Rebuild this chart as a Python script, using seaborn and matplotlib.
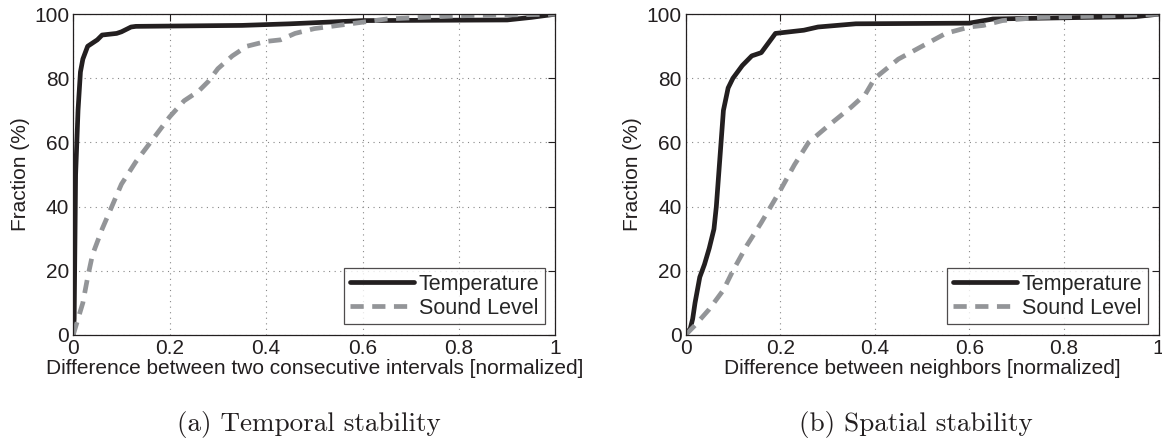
import pandas as pd
import matplotlib
matplotlib.use("Agg")
import matplotlib.pyplot as plt
import seaborn as sns

# CDF curves (x = normalized difference, y = fraction %)
temporal_temp_x = [0, 0.002, 0.005, 0.01, 0.015, 0.02, 0.03, 0.04, 0.05, 0.06, 0.09, 0.1, 0.12, 0.13, 0.35, 0.45, 0.6, 0.9, 0.95, 1.0]
temporal_temp_y = [0, 5, 50, 70, 82, 86, 90, 91, 92, 93.5, 94, 94.5, 96, 96.2, 96.5, 97, 98, 98.2, 99, 100]
temporal_sound_x = [0, 0.01, 0.02, 0.03, 0.04, 0.06, 0.08, 0.1, 0.13, 0.16, 0.2, 0.23, 0.26, 0.28, 0.3, 0.33, 0.36, 0.4, 0.43, 0.46, 0.5, 0.55, 0.6, 0.65, 0.8, 1.0]
temporal_sound_y = [0, 5, 10, 18, 25, 33, 40, 47, 54, 60, 68, 73, 76, 79, 83, 87, 90, 91.5, 92, 94, 95.5, 96.5, 97.5, 98.5, 99.5, 100]

spatial_temp_x = [0, 0.01, 0.015, 0.02, 0.03, 0.04, 0.05, 0.06, 0.065, 0.07, 0.075, 0.08, 0.09, 0.1, 0.12, 0.14, 0.16, 0.175, 0.19, 0.25, 0.28, 0.36, 0.6, 0.65, 0.85, 0.95, 1.0]
spatial_temp_y = [0, 2, 5, 10, 18, 22, 27, 33, 40, 50, 60, 70, 77, 80, 84, 87, 88, 91, 94, 95, 96, 97, 97.2, 98.5, 99, 99.2, 100]
spatial_sound_x = [0, 0.02, 0.05, 0.08, 0.1, 0.13, 0.16, 0.18, 0.2, 0.23, 0.26, 0.3, 0.35, 0.38, 0.4, 0.45, 0.5, 0.55, 0.6, 0.63, 0.67, 0.75, 0.9, 1.0]
spatial_sound_y = [0, 3, 8, 14, 20, 28, 35, 40, 45, 53, 60, 65, 71, 75, 80, 86, 90, 94, 96, 96.5, 98, 99, 99.5, 100]

panels = [
    ("Difference between two consecutive intervals [normalized]", "(a) Temporal stability",
     temporal_temp_x, temporal_temp_y, temporal_sound_x, temporal_sound_y),
    ("Difference between neighbors [normalized]", "(b) Spatial stability",
     spatial_temp_x, spatial_temp_y, spatial_sound_x, spatial_sound_y),
]

sns.set_style("white")
plt.rcParams['font.family'] = ['Liberation Sans', 'DejaVu Sans']

fig = plt.figure(figsize=(11.62, 4.43), dpi=100)
axes = [fig.add_axes([0.063, 0.244, 0.415, 0.724]),
        fig.add_axes([0.590, 0.244, 0.407, 0.724])]

fs = 15
for ax, (xlabel, caption, tx, ty, sx, sy) in zip(axes, panels):
    df_t = pd.DataFrame({"x": tx, "y": ty})
    df_s = pd.DataFrame({"x": sx, "y": sy})
    sns.lineplot(data=df_t, x="x", y="y", ax=ax, sort=False, color="#231f20",
                 linewidth=3.4, label="Temperature")
    sns.lineplot(data=df_s, x="x", y="y", ax=ax, sort=False, color="#939598",
                 linewidth=3.4, linestyle=(0, (2.8, 1.8)), label="Sound Level")
    ax.set_xlim(0, 1)
    ax.set_ylim(0, 100)
    ax.set_xticks([0, 0.2, 0.4, 0.6, 0.8, 1])
    ax.set_xticklabels(["0", "0.2", "0.4", "0.6", "0.8", "1"])
    ax.set_yticks([0, 20, 40, 60, 80, 100])
    ax.grid(True, linestyle=(0, (1, 4)), color="#888888", linewidth=0.8)
    ax.tick_params(direction="in", length=5, top=True, right=True, labelsize=fs,
                   colors="#231f20", width=0.8, pad=3)
    for sp in ax.spines.values():
        sp.set_color("#231f20")
        sp.set_linewidth(0.9)
    ax.set_xlabel(xlabel, fontsize=fs, color="#231f20", labelpad=1)
    ax.set_ylabel("Fraction (%)", fontsize=fs, color="#231f20", labelpad=3)
    leg = ax.legend(loc="lower right", fontsize=fs + 0.5, frameon=True, fancybox=False,
                    handlelength=3.0, borderpad=0.25, labelspacing=0.15,
                    handletextpad=0.2, borderaxespad=0.5)
    leg.get_frame().set_edgecolor("#231f20")
    leg.get_frame().set_linewidth(0.9)
    pos = ax.get_position()
    fig.text((pos.x0 + pos.x1) / 2 - 0.005, 0.012, caption, ha="center", va="bottom",
             fontsize=19.5, family="cmr10", color="#231f20")

fig.savefig("out.png", dpi=100)
